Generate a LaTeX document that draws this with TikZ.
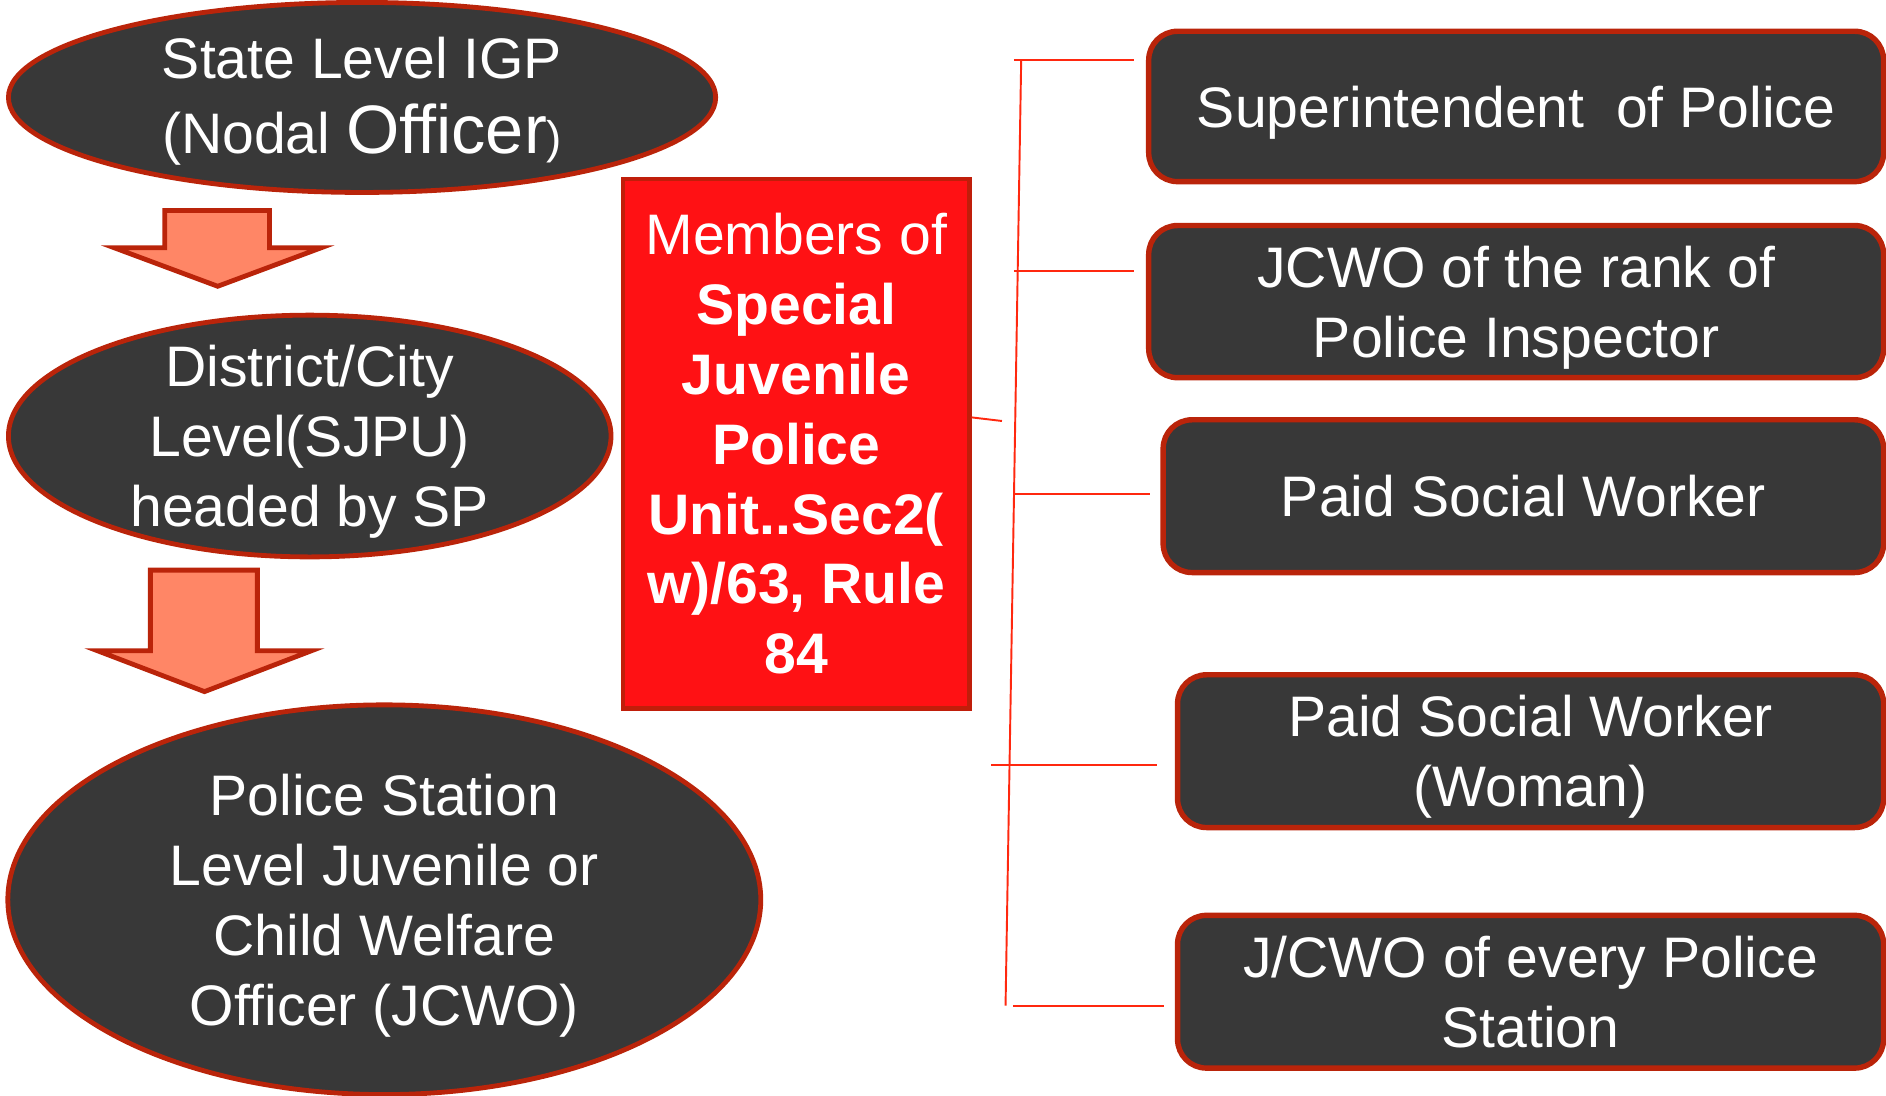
\documentclass[tikz,border=0pt]{standalone}
\usepackage{fontspec}
\setmainfont{Liberation Sans}
\usetikzlibrary{shapes.geometric}
\definecolor{darkfill}{RGB}{56,56,56}
\definecolor{rimred}{RGB}{186,36,10}
\definecolor{boxred}{RGB}{255,17,20}
\definecolor{boxrim}{RGB}{192,30,10}
\definecolor{salmon}{RGB}{255,134,102}
\definecolor{linkred}{RGB}{255,40,15}
\newcommand\nodp[1]{\raisebox{0pt}[\height][0pt]{#1}}
\begin{document}
\begin{tikzpicture}[x=1pt,y=-1pt,
  oval/.style={ellipse, draw=rimred, line width=4pt, fill=darkfill, inner sep=0pt},
  txt/.style={text=white, align=center, font=\fontsize{47.5}{58}\selectfont, inner sep=0pt},
  member/.style={draw=rimred, line width=4.5pt, fill=darkfill, rounded corners=24pt, txt},
  redbox/.style={draw=boxrim, line width=3.5pt, fill=boxred, txt},
  blockarrow/.style={draw=rimred, line width=4pt, fill=salmon, line join=miter},
  link/.style={draw=linkred, line width=1.6pt}]
\useasboundingbox (0,0) rectangle (1568,911);

% left column
\node[oval, minimum width=588pt, minimum height=158pt] (igp) at (301,81) {};
\node[txt] (igptext) at ([yshift=2pt]igp.center) {State Level IGP\\[4pt]\nodp{(Nodal {\fontsize{57}{58}\selectfont Officer}{\fontsize{38}{40}\selectfont )}}};

\draw[blockarrow] (137,175) -- (224,175) -- (224,206) -- (267,206) -- (181,238) -- (95,206) -- (137,206) -- cycle;

\node[oval, minimum width=501pt, minimum height=201pt] (sjpuoval) at (257.5,362.5) {};
\node[txt] (sjputext) at (sjpuoval.center) {District/City\\Level(SJPU)\\\nodp{headed by SP}};

\draw[blockarrow] (125,474) -- (214,474) -- (214,541) -- (259,541) -- (170,575) -- (81,541) -- (125,541) -- cycle;

\node[oval, minimum width=626pt, minimum height=324pt] (ps) at (319.5,748) {};
\node[txt] (pstext) at (ps.center) {Police Station\\Level Juvenile or\\Child Welfare\\\nodp{Officer (JCWO)}};

% centre box
\node[redbox, minimum width=288pt, minimum height=440pt] (unit) at (662,369)
  {Members of\\\textbf{Special}\\\textbf{Juvenile}\\\textbf{Police}\\\textbf{Unit..Sec2(}\\\textbf{w)/63, Rule}\\\textbf{84}};

% right column
\node[member, minimum width=611pt, minimum height=125pt] (sp) at (1260.5,88.5) {\nodp{Superintendent~ of Police}};
\node[member, minimum width=611pt, minimum height=126.5pt] (jcwo) at (1260.5,250.75) {JCWO of the rank of\\\nodp{Police Inspector}};
\node[member, minimum width=599pt, minimum height=127pt] (psw) at (1266.5,412.5) {Paid Social Worker};
\node[member, minimum width=587pt, minimum height=127pt] (pswwoman) at (1272.5,624.5) {Paid Social Worker\\\nodp{(Woman)}};
\node[member, minimum width=587pt, minimum height=127pt] (everyps) at (1272.5,824.5) {J/CWO of every Police\\Station};

% bracket connectors
\coordinate (btop) at (849,50);
\coordinate (bbot) at (836,836);
\coordinate (stub) at (833,350);
\coordinate (h1a) at (843,50);  \coordinate (h1b) at (943,50);
\coordinate (h2a) at (843,225); \coordinate (h2b) at (943,225);
\coordinate (h3a) at (843,411); \coordinate (h3b) at (956,411);
\coordinate (h4a) at (824,636); \coordinate (h4b) at (962,636);
\coordinate (h5a) at (842,836); \coordinate (h5b) at (968,836);
\draw[link] (btop) -- (bbot);
\draw[link] ([yshift=22pt]unit.east) -- (stub);
\draw[link] (h1a) -- (h1b);
\draw[link] (h2a) -- (h2b);
\draw[link] (h3a) -- (h3b);
\draw[link] (h4a) -- (h4b);
\draw[link] (h5a) -- (h5b);
\end{tikzpicture}
\end{document}
